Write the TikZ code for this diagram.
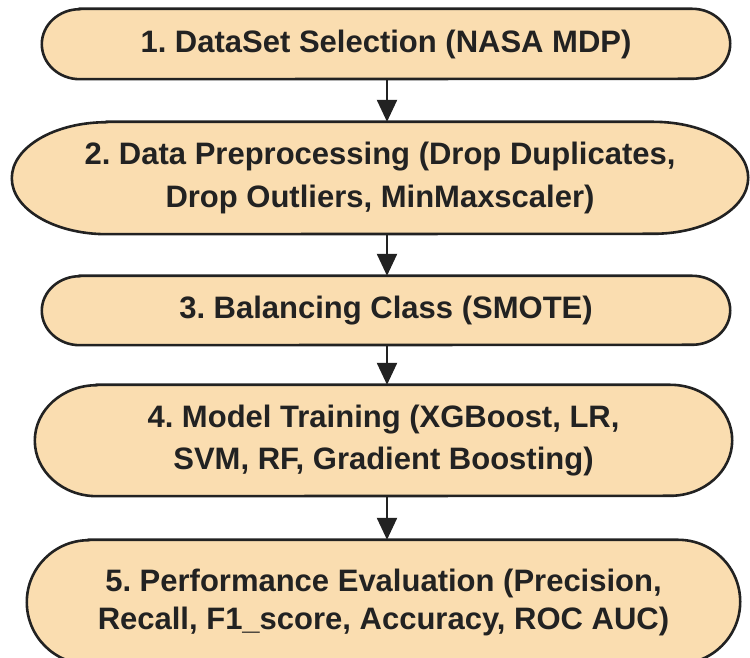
\documentclass[tikz,border=0pt]{standalone}
\usepackage{fontspec}
\setmainfont{Liberation Sans}
\frenchspacing
\usetikzlibrary{calc,arrows.meta,backgrounds}
\definecolor{boxfill}{HTML}{FADDB0}
\definecolor{ink}{HTML}{222222}
\tikzset{
  txt/.style={inner sep=0pt, align=center, text=ink,
    font=\fontsize{31}{43}\selectfont\bfseries},
  boxline/.style={draw=ink, line width=2.6pt, fill=boxfill},
  arr/.style={draw=ink, line width=2.4pt, -{Triangle[width=20pt,length=22pt]}}
}
\newcommand{\pillshape}[3]{%
  \draw[boxline] ($(#1.north west)+(#2,0)$) -- ($(#1.north east)+(-#2,0)$)
    arc[start angle=90, end angle=-90, x radius=#2, y radius=#3]
    -- ($(#1.south west)+(#2,0)$)
    arc[start angle=270, end angle=90, x radius=#2, y radius=#3] -- cycle;}
\begin{document}
\begin{tikzpicture}[x=1pt,y=1pt]
\useasboundingbox (0,0) rectangle (750,658);
\node[txt, minimum width=688pt, minimum height=70pt] (b1) at (386,614) {1. DataSet Selection (NASA MDP)};
\node[txt, minimum width=736pt, minimum height=112pt] (b2) at (380,480) {2. Data Preprocessing (Drop Duplicates,\\Drop Outliers, MinMaxscaler)};
\node[txt, minimum width=688pt, minimum height=69pt] (b3) at (386,347.5) {3. Balancing Class (SMOTE)};
\node[txt, minimum width=697pt, minimum height=111pt, font=\fontsize{31}{42}\selectfont\bfseries] (b4) at (383.5,217.5) {4. Model Training (XGBoost, LR,\\SVM, RF, Gradient Boosting)};
\node[txt, minimum width=713pt, minimum height=124pt, font=\fontsize{31}{38}\selectfont\bfseries] (b5) at (383.5,56) {5. Performance Evaluation (Precision,\\Recall, F1\_score, Accuracy, ROC AUC)};
\begin{scope}[on background layer]
\fill[white] (0,0) rectangle (750,658);
\pillshape{b1}{38}{35}
\pillshape{b2}{95}{56}
\pillshape{b3}{38}{34.5}
\pillshape{b4}{62}{55.5}
\pillshape{b5}{62}{62}
\end{scope}
\coordinate (a1) at ($(b1.south)+(1,0)$);
\coordinate (a2) at ($(b2.south)+(7,0)$);
\coordinate (a3) at ($(b3.south)+(1,0)$);
\coordinate (a4) at ($(b4.south)+(3.5,0)$);
\draw[arr] (a1) -- (a1 |- b2.north);
\draw[arr] (a2) -- (a2 |- b3.north);
\draw[arr] (a3) -- (a3 |- b4.north);
\draw[arr] (a4) -- (a4 |- b5.north);
\end{tikzpicture}
\end{document}
